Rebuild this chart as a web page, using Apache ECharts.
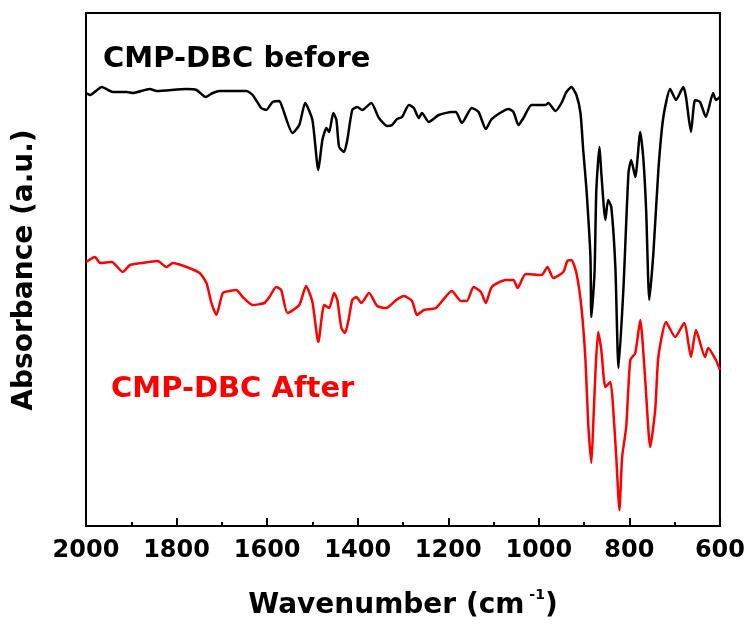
<!DOCTYPE html>
<html>
<head>
<meta charset="utf-8">
<script src="https://cdn.jsdelivr.net/npm/echarts@6/dist/echarts.min.js"></script>
<style>html,body{margin:0;padding:0;background:#fff;}#c{width:748px;height:626px;}</style>
</head>
<body>
<div id="c"></div>
<script>
var xTicks = [600, 800, 1000, 1200, 1400, 1600, 1800, 2000];
var beforeWn = [2000,1991,1965,1941,1910,1897,1859,1844,1778,1756,1736,1720,1705,1646,1632,1613,1602,1588,1573,1566,1544,1529,1516,1500,1487,1478,1469,1463,1454,1447,1441,1430,1423,1412,1401,1390,1370,1353,1335,1324,1313,1302,1287,1276,1265,1258,1243,1221,1192,1183,1170,1148,1133,1117,1104,1067,1056,1045,1034,1016,985,979,963,950,939,928,917,908,902,895,886,884,877,873,866,862,853,847,840,831,824,813,802,796,787,776,769,763,756,747,736,725,710,697,681,675,664,655,644,631,615,609,600];
var beforeAbs = [434,432,440,435,435,434,438,436,438,437,430,434,436,436,432,419,417,425,426,419,394,402,424,407,357,387,399,395,414,407,380,375,387,417,420,417,424,409,401,402,408,410,422,419,409,414,405,412,415,415,404,419,415,398,408,418,415,402,409,422,422,424,416,424,435,440,432,414,377,339,270,210,254,337,380,354,307,327,320,260,159,240,354,367,350,395,367,317,227,274,357,410,438,427,440,430,395,427,425,410,434,427,430];
var afterWn = [2000,1980,1969,1943,1919,1903,1877,1842,1822,1808,1778,1749,1734,1723,1712,1698,1683,1668,1654,1632,1606,1595,1580,1569,1555,1529,1514,1500,1487,1474,1463,1452,1445,1436,1428,1419,1412,1403,1392,1375,1357,1337,1315,1298,1280,1269,1254,1227,1192,1172,1159,1144,1128,1117,1104,1073,1056,1047,1029,994,981,968,946,937,928,917,906,897,891,884,880,875,869,862,853,842,836,829,822,816,807,798,787,776,765,754,743,736,719,699,679,664,653,633,626,609,600];
var afterAbs = [265,270,264,265,255,262,264,266,260,264,260,254,244,224,212,234,236,237,230,222,224,230,240,237,214,222,241,225,185,222,219,234,227,199,194,210,227,230,224,234,221,219,227,231,226,212,217,219,236,226,226,240,235,224,240,247,247,239,253,252,260,249,255,266,267,254,220,167,104,64,100,154,195,177,140,145,120,70,17,70,100,167,174,207,147,80,117,170,205,190,204,170,197,170,179,167,157];

function pairs(xs, ys) { return xs.map(function (x, i) { return [x, ys[i]]; }); }

var FONT = '"DejaVu Sans", sans-serif';
var chart = echarts.init(document.getElementById('c'));
chart.setOption({
  animation: false,
  backgroundColor: '#ffffff',
  grid: { left: 86, right: 26, top: 13, bottom: 100, show: true, borderColor: '#000', borderWidth: 2, backgroundColor: 'transparent' },
  xAxis: {
    type: 'value', inverse: true, min: 600, max: 2000, interval: 200,
    axisLine: { show: true, lineStyle: { color: '#000', width: 2 } },
    axisTick: { show: true, inside: true, length: 8, lineStyle: { color: '#000', width: 2 } },
    minorTick: { show: true, splitNumber: 2, length: 4, lineStyle: { color: '#000', width: 2 } },
    splitLine: { show: false },
    axisLabel: { color: '#000', fontSize: 24, fontWeight: 'bold', fontFamily: FONT, margin: 13,
      formatter: function (v) { return xTicks.indexOf(v) >= 0 ? String(v) : ''; } },
    name: 'Wavenumber (cm{sup| -1})',
    nameLocation: 'middle', nameGap: 62,
    nameTextStyle: { color: '#000', fontSize: 28, fontWeight: 'bold', fontFamily: FONT,
      rich: { sup: { fontSize: 14, fontWeight: 'bold', fontFamily: FONT, color: '#000', verticalAlign: 'top', lineHeight: 36 } } }
  },
  yAxis: {
    type: 'value', min: 1, max: 514,
    axisLine: { show: false }, axisTick: { show: false }, axisLabel: { show: false }, splitLine: { show: false }
  },
  graphic: [
    { type: 'text', x: 25, y: 270, rotation: Math.PI / 2,
      style: { text: 'Absorbance (a.u.)', fill: '#000', font: 'bold 28px "DejaVu Sans", sans-serif', textAlign: 'center', textVerticalAlign: 'middle', align: 'center', verticalAlign: 'middle' } },
    { type: 'text', x: 103, y: 59,
      style: { text: 'CMP-DBC before', fill: '#000', font: 'bold 29px "DejaVu Sans", sans-serif', textAlign: 'left', textVerticalAlign: 'middle', align: 'left', verticalAlign: 'middle' } },
    { type: 'text', x: 111, y: 389,
      style: { text: 'CMP-DBC After', fill: '#ff0000', font: 'bold 29px "DejaVu Sans", sans-serif', textAlign: 'left', textVerticalAlign: 'middle', align: 'left', verticalAlign: 'middle' } }
  ],
  series: [
    { name: 'CMP-DBC before', type: 'line', data: pairs(beforeWn, beforeAbs), showSymbol: false, smooth: 0.2,
      lineStyle: { color: '#000', width: 2.5 }, itemStyle: { color: '#000' } },
    { name: 'CMP-DBC After', type: 'line', data: pairs(afterWn, afterAbs), showSymbol: false, smooth: 0.2,
      lineStyle: { color: '#ff0000', width: 2.5 }, itemStyle: { color: '#ff0000' } }
  ]
});
</script>
</body>
</html>
